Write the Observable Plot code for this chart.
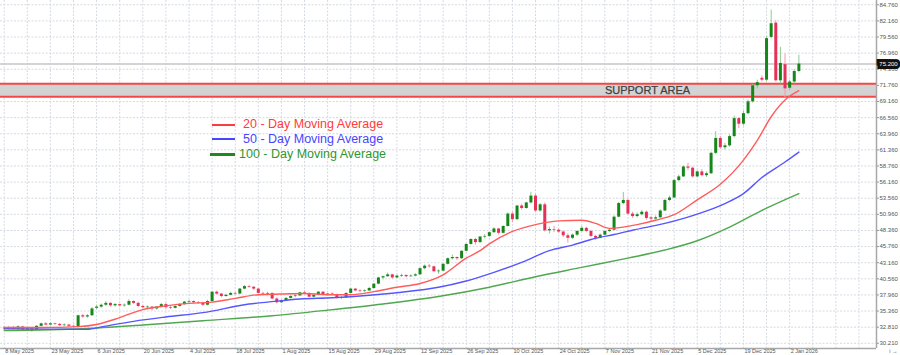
<!DOCTYPE html>
<html><head><meta charset="utf-8">
<script src="https://cdn.jsdelivr.net/npm/d3@7"></script>
<script src="https://cdn.jsdelivr.net/npm/@observablehq/plot@0.6"></script>
<style>
body{margin:0;background:#fff;}
#wrap{position:relative;width:900px;height:355px;overflow:hidden;font-family:"Liberation Sans",Arial,sans-serif;}
.lg-line{position:absolute;height:2px;}
.lg-text{position:absolute;font-size:12.5px;line-height:14px;white-space:nowrap;}
</style></head>
<body><div id="wrap"><div id="chart"></div><div id="legend"></div></div>
<script>
// ---------- DATA ----------
const dateTickIdx = [0,10,20,30,40,50,60,70,80,90,100,110,120,130,140,150,160,170];
const dateTickLabels = ["8 May 2025","23 May 2025","6 Jun 2025","20 Jun 2025","4 Jul 2025","18 Jul 2025","1 Aug 2025","15 Aug 2025","29 Aug 2025","12 Sep 2025","26 Sep 2025","10 Oct 2025","24 Oct 2025","7 Nov 2025","21 Nov 2025","5 Dec 2025","19 Dec 2025","2 Jan 2026"];
const priceTicks = [84.76,82.16,79.56,76.96,74.36,71.76,69.16,66.56,63.96,61.36,58.76,56.16,53.56,50.96,48.36,45.76,43.16,40.56,37.96,35.36,32.76,30.16];
const priceTickLabels = ["84.760","82.160","79.560","76.960","74.360","71.760","69.160","66.560","63.960","61.360","58.760","56.160","53.560","50.960","48.360","45.760","43.160","40.560","37.960","35.360","32.810","30.210"];

const open = [32.6,32.5,32.7,32.4,32.8,32.3,32.5,32.3,32.9,33.3, 33.1,33.3,33.2,33.0,33.1,32.9,32.8,34.6,34.4,34.6,
 35.8,36.0,36.3,36.6,36.2,36.4,36.2,36.3,36.9,36.6, 36.1,35.9,36.0,35.7,36.0,36.4,35.9,35.8,36.1,36.4,
 36.8,36.9,36.7,36.6,36.3,36.9,38.4,38.1,37.7,37.9, 38.2,38.1,38.9,39.3,39.2,38.9,38.2,38.1,38.2,37.3,
 36.7,37.0,37.4,37.7,37.8,38.3,38.2,37.6,37.9,38.4, 38.0,38.1,38.0,37.4,37.5,38.2,38.9,38.6,38.5,38.6,
 39.0,39.7,40.7,40.9,41.2,40.7,41.0,41.1,40.9,41.0, 41.2,42.2,42.6,42.5,41.7,41.8,42.9,43.8,44.0,43.8,
 45.0,46.1,46.9,46.4,47.3,47.4,48.0,48.6,47.9,49.0, 51.0,50.1,52.3,51.9,52.8,53.9,51.5,52.5,48.3,48.5,
 48.4,48.1,47.5,47.1,47.6,48.2,48.7,48.2,47.4,47.1, 47.6,48.2,48.4,50.5,52.7,53.2,51.0,50.6,50.9,51.3,
 50.4,50.2,50.4,51.5,53.2,53.6,56.4,57.0,58.6,58.4, 57.0,57.8,57.2,57.5,60.8,63.2,61.7,62.0,63.5,66.4,
 65.5,67.2,69.1,71.7,72.9,72.6,79.5,81.8,72.5,75.1, 71.3,72.3,74.0];
const high = [32.9,32.9,32.9,33.0,32.9,32.6,32.6,33.0,33.4,33.5, 33.5,33.4,33.4,33.3,33.2,33.1,34.7,34.8,34.8,35.9,
 36.3,36.5,36.9,36.7,36.6,36.5,36.5,37.2,37.0,36.8, 36.3,36.2,36.1,36.1,36.6,36.6,36.1,36.2,36.6,36.9,
 37.1,37.0,36.9,36.8,37.1,38.5,38.6,38.2,38.1,38.4, 38.4,39.0,39.5,39.5,39.3,39.0,38.4,38.4,38.3,37.5,
 37.2,37.5,37.9,38.0,38.4,38.6,38.3,38.0,38.5,38.5, 38.2,38.3,38.1,37.7,38.3,39.0,39.0,38.8,38.8,39.2,
 39.8,40.8,41.0,41.5,41.3,41.1,41.3,41.2,41.2,41.4, 42.3,42.8,42.9,42.6,42.0,43.0,43.9,44.4,44.1,45.1,
 46.2,47.0,47.1,47.4,47.7,48.1,48.8,48.7,49.1,51.2, 51.3,52.4,52.6,52.9,54.5,54.2,52.7,52.8,48.9,49.0,
 48.6,48.3,47.8,47.8,48.3,49.0,48.9,48.4,47.6,47.8, 48.3,48.6,50.7,52.9,54.5,53.4,51.3,51.2,51.6,51.5,
 50.6,50.7,51.7,53.4,53.9,56.6,57.3,58.8,59.2,58.6, 58.0,58.2,57.8,61.0,64.3,63.5,62.4,63.8,66.8,66.6,
 67.6,69.4,71.9,72.6,73.3,79.6,83.9,82.2,77.9,76.8, 72.6,74.3,76.6];
const low = [32.3,32.3,32.3,32.3,32.2,32.1,31.9,32.2,32.8,33.0, 33.0,33.0,32.9,32.9,32.7,32.6,32.7,34.2,34.2,34.5,
 35.6,35.8,36.1,36.0,36.0,36.0,36.0,36.2,36.4,35.9, 35.7,35.6,35.4,35.5,35.9,35.7,35.6,35.7,36.0,36.3,
 36.6,36.5,36.4,36.1,36.2,36.8,37.9,37.5,37.6,37.8, 37.9,38.0,38.8,39.0,38.7,38.1,37.9,37.9,37.2,36.5,
 36.6,36.9,37.3,37.5,37.7,38.1,37.5,37.5,37.8,37.9, 37.8,37.9,37.3,37.2,37.4,38.1,38.5,38.3,38.4,38.5,
 38.9,39.6,40.4,40.8,40.5,40.6,40.8,40.7,40.8,40.9, 41.1,42.0,42.3,41.6,41.3,41.7,42.8,43.6,43.5,43.7,
 44.9,46.0,46.0,46.3,47.0,47.2,47.9,47.6,47.8,48.9, 49.6,50.0,51.6,51.8,52.6,51.2,51.3,48.1,47.8,48.0,
 47.9,47.2,46.3,46.9,47.4,48.1,48.0,47.2,46.8,47.0, 47.5,48.0,48.3,50.4,52.5,50.8,50.3,50.4,50.7,50.0,
 49.8,50.0,50.3,51.4,53.0,53.5,56.2,56.9,58.0,56.8, 56.8,57.0,56.9,57.4,60.6,61.4,61.3,61.8,63.3,64.8,
 65.2,67.0,68.9,71.2,72.3,72.4,79.3,72.3,72.0,69.8, 70.9,72.0,73.8];
const close = [32.5,32.7,32.4,32.8,32.3,32.5,32.2,32.9,33.3,33.1, 33.3,33.2,33.0,33.1,32.9,32.8,34.6,34.4,34.6,35.7,
 36.0,36.3,36.6,36.2,36.4,36.2,36.3,36.9,36.6,36.1, 35.9,36.0,35.7,36.0,36.4,35.9,35.8,36.1,36.4,36.8,
 36.9,36.7,36.6,36.3,36.9,38.4,38.1,37.7,37.9,38.2, 38.1,38.9,39.3,39.2,38.9,38.2,38.1,38.2,37.3,36.7,
 37.0,37.4,37.7,37.8,38.3,38.2,37.6,37.9,38.4,38.0, 38.1,38.0,37.4,37.5,38.2,38.9,38.6,38.5,38.6,39.0,
 39.7,40.7,40.9,41.2,40.7,41.0,41.1,40.9,41.0,41.2, 42.2,42.6,42.5,41.7,41.8,42.9,43.8,44.0,43.8,45.0,
 46.1,46.9,46.4,47.3,47.4,48.0,48.6,47.9,49.0,51.0, 50.1,52.3,51.9,52.8,53.9,51.5,52.5,48.3,48.5,48.4,
 48.1,47.5,47.1,47.6,48.2,48.7,48.2,47.4,47.1,47.6, 48.2,48.4,50.5,52.7,53.2,51.0,50.6,50.9,51.3,50.3,
 50.2,50.4,51.5,53.2,53.6,56.4,57.0,58.6,58.4,57.0, 57.8,57.2,57.5,60.8,63.2,61.7,62.0,63.5,66.4,65.5,
 67.2,69.1,71.7,72.2,72.6,79.3,81.7,72.5,75.3,71.2, 72.3,74.0,75.2];

// moving averages, read at sample bars
const ma20Idx = [0,8,16,20,25,30,35,40,45,50,55,60,65,70,75,80,85,90,95,100,103,105,110,115,120,125,128,131,134,137,141,145,150,155,160,163,166,169,172];
const ma20Val = [32.7,32.7,32.85,33.2,34.3,35.6,36.2,36.6,36.8,37.4,38.0,38.1,38.2,38.0,38.0,38.5,39.2,39.8,41.2,43.9,45.1,46.2,48.2,49.3,49.9,50.0,49.5,48.7,48.9,49.3,50.0,50.9,53.3,55.8,59.7,62.9,66.7,69.4,70.9];
const ma50Idx = [0,10,18,21,28,35,43,53,57,64,71,79,86,94,100,106,112,118,123,128,132,136,143,150,156,160,164,169,172];
const ma50Val = [32.5,32.45,32.4,32.8,33.7,34.4,35.1,36.5,36.8,37.3,37.5,37.9,38.4,39.2,40.2,41.6,43.2,45.1,46.0,47.1,47.7,48.4,49.5,51.0,52.7,54.3,56.9,59.4,61.0];
const ma100Idx = [0,17,30,43,58,70,82,94,105,115,125,135,143,150,157,164,172];
const ma100Val = [32.2,32.5,33.1,33.8,34.6,35.5,36.5,37.7,39.2,40.9,42.4,43.9,45.2,46.7,48.9,51.6,54.3];

const supportBand = [69.91, 72.01];   // low, high
const supportLabel = "SUPPORT AREA";
const lastPrice = 75.2;
const legendItems = ["20 - Day Moving Average","50 - Day Moving Average","100 - Day Moving Average"];
const legendColors = ["#ff3b3b","#4646ff","#2e962e"];

// ---------- BUILD ----------
const bars = open.map((o,i)=>({i, o, h:high[i], l:low[i], c:close[i]}));
const upBars = bars.filter(d=>d.c >= d.o);
const dnBars = bars.filter(d=>d.c < d.o);
const ma20 = ma20Idx.map((i,k)=>({i, v:ma20Val[k]}));
const ma50 = ma50Idx.map((i,k)=>({i, v:ma50Val[k]}));
const ma100 = ma100Idx.map((i,k)=>({i, v:ma100Val[k]}));
const xDom = [-0.8, 188.8], yDom = [29.32, 85.45];
const gridIdx = d3.range(0, 190, 5);
const dateLabel = new Map(dateTickIdx.map((d,k)=>[d, dateTickLabels[k]]));
const priceLabel = new Map(priceTicks.map((d,k)=>[d, priceTickLabels[k]]));
const GREEN = "#16861a", RED = "#e53158";

const chart = Plot.plot({
  width: 900, height: 355,
  marginLeft: 0, marginRight: 24, marginTop: 0, marginBottom: 7,
  x: {domain: xDom, axis: null},
  y: {domain: yDom, axis: null},
  style: {fontFamily: "'Liberation Sans', Arial, sans-serif", background: "#fff", overflow: "visible"},
  marks: [
    Plot.ruleX(gridIdx, {stroke: "#d5dae2", strokeDasharray: "2,1.5", strokeWidth: 1}),
    Plot.ruleY(priceTicks, {stroke: "#d5dae2", strokeDasharray: "2,1.5", strokeWidth: 1}),
    Plot.rect([supportBand], {x1: xDom[0], x2: xDom[1], y1: d=>d[0], y2: d=>d[1], fill: "#d3d3d3"}),
    Plot.ruleY(supportBand, {stroke: "#f04848", strokeWidth: 2}),
    Plot.ruleY([lastPrice], {stroke: "#c6c6c6", strokeWidth: 1.5}),
    Plot.text([supportLabel], {y: (supportBand[0]+supportBand[1])/2, frameAnchor: "left", dx: 647, textAnchor: "middle",
      fontSize: 11, fill: "#404040", fontWeight: "normal", letterSpacing: "0.9px", stroke: "#404040", strokeWidth: 0.25, text: d=>d}),
    // candles
    Plot.ruleX(upBars, {x: "i", y1: "l", y2: "h", stroke: "#8fc98f", strokeWidth: 1}),
    Plot.ruleX(dnBars, {x: "i", y1: "l", y2: "h", stroke: "#f29ab0", strokeWidth: 1}),
    Plot.ruleX(upBars, {x: "i", y1: "o", y2: "c", stroke: GREEN, strokeWidth: 3}),
    Plot.ruleX(dnBars, {x: "i", y1: "o", y2: "c", stroke: RED, strokeWidth: 3}),
    // moving averages
    Plot.line(ma100, {x: "i", y: "v", stroke: "#4fa84f", strokeWidth: 1.4, curve: "monotone-x"}),
    Plot.line(ma50, {x: "i", y: "v", stroke: "#5656ff", strokeWidth: 1.4, curve: "monotone-x"}),
    Plot.line(ma20, {x: "i", y: "v", stroke: "#ff5c5c", strokeWidth: 1.4, curve: "monotone-x"}),
    // frame lines
    Plot.ruleX([xDom[1]], {stroke: "#a8a8a8", strokeWidth: 1.5}),
    Plot.ruleY([yDom[0]], {stroke: "#a8a8a8", strokeWidth: 1.5}),
    // axes
    Plot.axisY(priceTicks, {anchor: "right", tickSize: 2, tickPadding: 1, fontSize: 6, fill: "#555", stroke: "#999",
      tickFormat: d => priceLabel.get(d)}),
    Plot.axisX(dateTickIdx, {anchor: "bottom", tickSize: 1, tickPadding: 0, fontSize: 5.5, fill: "#555", stroke: "#999",
      textAnchor: "start", dx: 1, tickFormat: d => dateLabel.get(d)}),
    // current price tag
    Plot.text([lastPrice], {y: d=>d, frameAnchor: "right", dx: 12, textAnchor: "middle", text: d=>d.toFixed(3),
      fontSize: 6, fill: "#fff", stroke: "#111", strokeWidth: 6, strokeLinejoin: "miter", paintOrder: "stroke"})
  ]
});
document.getElementById("chart").appendChild(chart);

// legend overlay
const lg = document.getElementById("legend");
const lgPos = [{lx:212,lw:23,y:124.5,tx:243},{lx:212,lw:23,y:139,tx:243},{lx:210,lw:25,y:154,tx:239}];
legendItems.forEach((t,k)=>{
  const p = lgPos[k];
  const l = document.createElement("div");
  l.className = "lg-line";
  l.style.left = p.lx+"px"; l.style.width = p.lw+"px"; l.style.top = (p.y-1)+"px";
  l.style.background = legendColors[k];
  if (k===2) { l.style.height = "2.5px"; l.style.background = "#1d8a1d"; }
  lg.appendChild(l);
  const s = document.createElement("div");
  s.className = "lg-text";
  s.style.left = p.tx+"px"; s.style.top = (p.y-7.5)+"px"; s.style.color = legendColors[k];
  s.textContent = t;
  lg.appendChild(s);
});
</script>
</body></html>
